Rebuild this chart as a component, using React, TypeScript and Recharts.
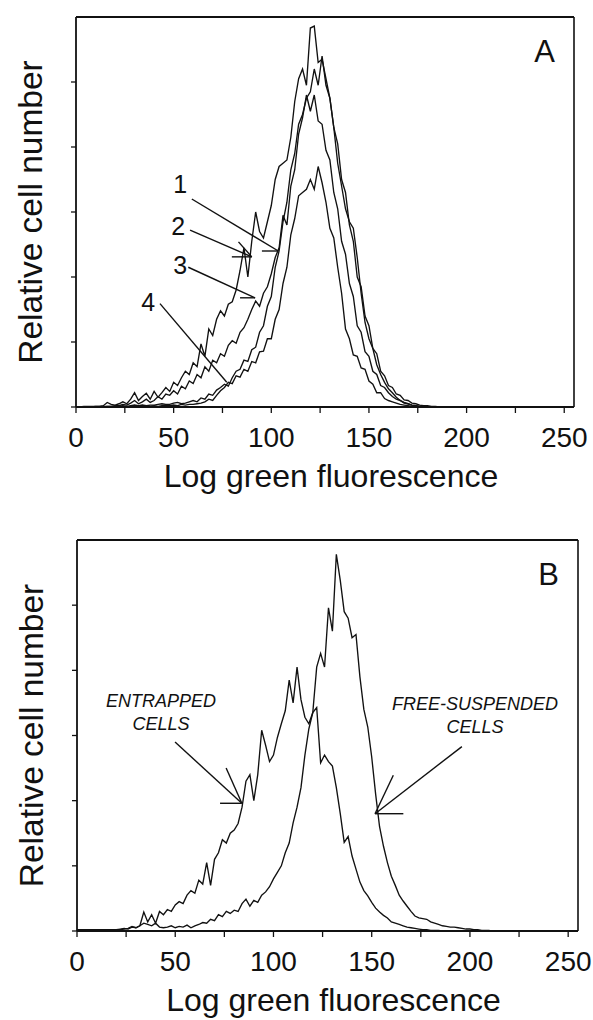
import React from "react";
import { LineChart, Line, XAxis, YAxis, ReferenceLine, ReferenceDot } from "recharts";

const INK = "#111";
const FONT = "'Liberation Sans', Arial, sans-serif";

// fluorescence channel (x), sampled every 2 channels
const channels = [
  0, 2, 4, 6, 8, 10, 12, 14, 16, 18,
  20, 22, 24, 26, 28, 30, 32, 34, 36, 38,
  40, 42, 44, 46, 48, 50, 52, 54, 56, 58,
  60, 62, 64, 66, 68, 70, 72, 74, 76, 78,
  80, 82, 84, 86, 88, 90, 92, 94, 96, 98,
  100, 102, 104, 106, 108, 110, 112, 114, 116, 118,
  120, 122, 124, 126, 128, 130, 132, 134, 136, 138,
  140, 142, 144, 146, 148, 150, 152, 154, 156, 158,
  160, 162, 164, 166, 168, 170, 172, 174, 176, 178,
  180, 182, 184, 186, 188, 190, 192, 194, 196, 198,
  200, 202, 204, 206, 208, 210,
];

// panel A – four histograms
const histA1 = [
  0, 0, 0, 0, 0, 0, 0, 0, 0.01, 0.01,
  0.01, 0.01, 0.02, 0.01, 0.02, 0.03, 0.02, 0.03, 0.02, 0.03,
  0.03, 0.04, 0.05, 0.04, 0.04, 0.06, 0.07, 0.05, 0.06, 0.08,
  0.1, 0.08, 0.14, 0.12, 0.2, 0.18, 0.26, 0.3, 0.35, 0.32,
  0.45, 0.55, 0.58, 0.72, 0.7, 0.88, 0.92, 1.15, 1.25, 1.55,
  1.7, 2.15, 2.4, 2.85, 3.15, 3.65, 3.9, 4.35, 4.5, 4.75,
  4.85, 5.2, 4.95, 5.4, 4.95, 4.75, 4.3, 4.05, 3.5, 3.3,
  2.8, 2.55, 2.0, 1.85, 1.4, 1.25, 0.9, 0.82, 0.55, 0.48,
  0.33, 0.3, 0.2, 0.18, 0.11, 0.1, 0.06, 0.05, 0.03, 0.02,
  0.02, 0.01, 0.01, 0, 0, 0, 0, 0, 0, 0,
  0, 0, 0, 0, 0, 0,
];
const histA2 = [
  0, 0, 0.01, 0.01, 0.01, 0.01, 0.01, 0.02, 0.07, 0.04,
  0.03, 0.05, 0.08, 0.05, 0.12, 0.22, 0.1, 0.16, 0.21, 0.12,
  0.24, 0.15, 0.22, 0.3, 0.24, 0.38, 0.33, 0.45, 0.55, 0.5,
  0.68, 0.62, 0.97, 0.78, 1.2, 1.1, 1.35, 1.48, 1.4, 1.58,
  1.62, 1.8, 2.1, 2.45, 2.0, 2.55, 3.0, 2.7, 2.6, 2.85,
  3.1, 3.5, 3.7, 3.75, 3.8, 4.15, 4.7, 5.05, 5.2, 4.95,
  5.83, 5.86, 5.3, 5.35, 5.05, 4.75, 4.3, 3.75, 3.4, 3.05,
  2.85, 2.75, 2.3, 1.75, 1.3, 1.05, 0.9, 0.65, 0.5, 0.38,
  0.28, 0.22, 0.15, 0.1, 0.06, 0.05, 0.03, 0.02, 0.01, 0.01,
  0, 0, 0, 0, 0, 0, 0, 0, 0, 0,
  0, 0, 0, 0, 0, 0,
];
const histA3 = [
  0, 0, 0, 0, 0, 0.01, 0.01, 0.01, 0.01, 0.01,
  0.02, 0.02, 0.04, 0.03, 0.06, 0.1, 0.05, 0.08, 0.12, 0.07,
  0.1, 0.16, 0.12, 0.2, 0.18, 0.25, 0.2, 0.32, 0.28, 0.4,
  0.36, 0.5, 0.45, 0.62, 0.55, 0.72, 0.68, 0.82, 0.78, 0.95,
  1.02, 0.98, 1.15, 1.22, 1.35, 1.5, 1.63, 1.55, 1.75, 1.85,
  2.05, 2.3, 2.45, 2.95, 2.8, 3.4, 3.65, 4.2, 4.45, 4.8,
  4.55, 4.8, 4.4, 4.35, 3.95, 3.8, 3.3, 3.05, 2.55, 2.35,
  1.9, 1.7, 1.25, 1.15, 0.85, 0.78, 0.55, 0.5, 0.33, 0.3,
  0.22, 0.16, 0.12, 0.1, 0.07, 0.05, 0.03, 0.02, 0.01, 0.01,
  0, 0, 0, 0, 0, 0, 0, 0, 0, 0,
  0, 0, 0, 0, 0, 0,
];
const histA4 = [
  0, 0, 0, 0, 0, 0, 0, 0, 0, 0,
  0, 0, 0, 0.01, 0, 0.01, 0.01, 0.01, 0.02, 0.01,
  0.02, 0.01, 0.02, 0.03, 0.02, 0.03, 0.02, 0.04, 0.03, 0.04,
  0.04, 0.05, 0.06, 0.08, 0.12, 0.1, 0.18, 0.25, 0.3, 0.38,
  0.36, 0.48, 0.46, 0.58, 0.55, 0.7, 0.68, 0.85, 0.86, 1.05,
  1.05, 1.35, 1.5, 1.9, 2.15, 2.65, 2.9, 3.25, 3.3, 3.35,
  3.5, 3.35, 3.7, 3.45, 3.15, 2.75, 2.6, 2.15, 1.75, 1.2,
  1.05, 0.8, 0.78, 0.6, 0.58, 0.4, 0.35, 0.22, 0.22, 0.13,
  0.1, 0.08, 0.06, 0.04, 0.03, 0.02, 0.01, 0.01, 0, 0,
  0, 0, 0, 0, 0, 0, 0, 0, 0, 0,
  0, 0, 0, 0, 0, 0,
];

// panel B – entrapped vs free-suspended cells
const entrapped = [
  0.02, 0.02, 0.02, 0.02, 0.02, 0.02, 0.02, 0.02, 0.02, 0.02,
  0.02, 0.03, 0.04, 0.03, 0.06, 0.05, 0.08, 0.29, 0.14, 0.25,
  0.12, 0.3, 0.25, 0.33, 0.3, 0.4, 0.45, 0.42, 0.55, 0.62,
  0.58, 0.78, 0.72, 1.05, 0.7, 1.1, 1.2, 1.4, 1.35, 1.5,
  1.55, 1.65, 1.9, 2.3, 2.4, 2.0, 2.4, 3.08, 2.85, 2.6,
  2.7, 2.97, 3.18, 3.38, 3.85, 3.5, 4.05, 3.55, 3.28, 3.18,
  3.35, 3.43, 2.58, 2.7, 2.6, 2.53, 2.2, 1.8, 1.36, 1.45,
  1.15, 0.95, 0.75, 0.62, 0.54, 0.44, 0.35, 0.29, 0.24, 0.2,
  0.14, 0.12, 0.1, 0.08, 0.06, 0.05, 0.04, 0.03, 0.02, 0.02,
  0.01, 0.01, 0.01, 0, 0, 0, 0, 0, 0, 0,
  0, 0, 0, 0, 0, 0,
];
const freeSuspended = [
  0.02, 0.02, 0.02, 0.02, 0.02, 0.02, 0.02, 0.02, 0.02, 0.02,
  0.02, 0.02, 0.03, 0.04, 0.07, 0.05, 0.08, 0.12, 0.1, 0.08,
  0.12, 0.06, 0.05, 0.06, 0.08, 0.05, 0.07, 0.06, 0.09, 0.05,
  0.08, 0.1, 0.13, 0.12, 0.18, 0.16, 0.25, 0.22, 0.3, 0.27,
  0.32, 0.3, 0.42, 0.49, 0.38, 0.47, 0.44, 0.55, 0.6, 0.68,
  0.8, 0.9, 1.0, 1.2, 1.35, 1.66, 1.9, 2.2, 2.7, 3.1,
  3.35, 4.05, 4.26, 4.05, 4.96, 4.6, 5.78, 5.38, 4.9, 4.8,
  4.5, 4.55, 3.9, 3.4, 3.13, 2.67, 2.1, 1.6, 1.3, 1.05,
  0.84, 0.7, 0.55, 0.46, 0.38, 0.3, 0.23, 0.2, 0.19, 0.18,
  0.14, 0.12, 0.1, 0.08, 0.07, 0.06, 0.06, 0.05, 0.04, 0.03,
  0.03, 0.02, 0.02, 0.01, 0.01, 0.01,
];

const xTicks = [0, 25, 50, 75, 100, 125, 150, 175, 200, 225, 250];
const yTicks = [0, 1, 2, 3, 4, 5];
const xMax = 255;
const yMax = 6;

// annotations, in data units
const notesA = [
  { text: "1", x: 53.3, y: 3.43 },
  { text: "2", x: 52.3, y: 2.78 },
  { text: "3", x: 53.3, y: 2.18 },
  { text: "4", x: 37, y: 1.62 },
];
const arrowsA = [
  { x1: 59.3, y1: 3.2, x2: 103.6, y2: 2.4 },
  { x1: 95.2, y1: 2.4, x2: 103.6, y2: 2.4 },
  { x1: 58.4, y1: 2.72, x2: 90, y2: 2.31 },
  { x1: 79.8, y1: 2.31, x2: 90, y2: 2.31 },
  { x1: 83.2, y1: 2.54, x2: 90, y2: 2.31 },
  { x1: 57.5, y1: 2.15, x2: 91.7, y2: 1.68 },
  { x1: 84, y1: 1.68, x2: 91.7, y2: 1.68 },
  { x1: 43, y1: 1.59, x2: 77.2, y2: 0.38 },
];
const notesB = [
  { text: "ENTRAPPED", x: 42.8, y: 3.54 },
  { text: "CELLS", x: 42.8, y: 3.18 },
  { text: "FREE-SUSPENDED", x: 202.6, y: 3.49 },
  { text: "CELLS", x: 202.6, y: 3.13 },
];
const arrowsB = [
  { x1: 49.9, y1: 2.9, x2: 83.9, y2: 1.96 },
  { x1: 72.8, y1: 1.96, x2: 83.9, y2: 1.96 },
  { x1: 75.9, y1: 2.5, x2: 83.9, y2: 1.96 },
  { x1: 195.9, y1: 2.83, x2: 151.7, y2: 1.8 },
  { x1: 166.1, y1: 1.8, x2: 151.7, y2: 1.8 },
  { x1: 161, y1: 2.39, x2: 151.7, y2: 1.8 },
];

const rowsA = channels.map((ch, i) => ({ ch, a1: histA1[i], a2: histA2[i], a3: histA3[i], a4: histA4[i] }));
const rowsB = channels.map((ch, i) => ({ ch, ent: entrapped[i], free: freeSuspended[i] }));

function YTitle({ viewBox }: any) {
  const cx = viewBox.x + 30;
  const cy = viewBox.y + viewBox.height / 2;
  return (
    <text x={cx} y={cy} transform={`rotate(-90, ${cx}, ${cy})`} textAnchor="middle"
      dominantBaseline="central" fontSize={33.5} fontFamily={FONT} fill={INK}>
      Relative cell number
    </text>
  );
}

function XTitle({ viewBox }: any) {
  const cx = viewBox.x + viewBox.width / 2 + 6;
  return (
    <text x={cx} y={viewBox.y + 80} textAnchor="middle" fontSize={32} fontFamily={FONT} fill={INK}>
      Log green fluorescence
    </text>
  );
}

function Panel({ data, keys, height, margin, xHeight, letter, notes, arrows, noteSize, noteStyle }: any) {
  return (
    <LineChart width={593} height={height} data={data} margin={margin}>
      <XAxis dataKey="ch" type="number" domain={[0, xMax]} ticks={xTicks} interval={0}
        tickFormatter={(v: number) => (v % 50 === 0 ? String(v) : "")}
        height={xHeight} tickSize={6} tickMargin={14}
        axisLine={{ stroke: INK, strokeWidth: 1.8 }} tickLine={{ stroke: INK, strokeWidth: 1.3 }}
        tick={{ fontSize: 28, fill: INK, fontFamily: FONT }}
        label={(p: any) => <XTitle {...p} />} />
      <YAxis type="number" domain={[0, yMax]} ticks={yTicks} interval={0} width={76}
        tickFormatter={() => ""} tickSize={5}
        axisLine={{ stroke: INK, strokeWidth: 1.8 }} tickLine={{ stroke: INK, strokeWidth: 1.3 }}
        label={(p: any) => <YTitle {...p} />} />
      <ReferenceLine y={yMax} stroke={INK} strokeWidth={1.8} ifOverflow="visible" />
      <ReferenceLine x={xMax} stroke={INK} strokeWidth={1.6} ifOverflow="visible" />
      {keys.map((k: string) => (
        <Line key={k} dataKey={k} type="linear" stroke={INK} strokeWidth={1.35} dot={false}
          isAnimationActive={false} />
      ))}
      {arrows.map((a: any, i: number) => (
        <ReferenceLine key={"ar" + i} segment={[{ x: a.x1, y: a.y1 }, { x: a.x2, y: a.y2 }]}
          stroke={INK} strokeWidth={1.4} ifOverflow="visible" />
      ))}
      {notes.map((n: any, i: number) => (
        <ReferenceDot key={"nt" + i} x={n.x} y={n.y} r={0} fill="none" stroke="none"
          label={{ value: n.text, position: "center", fontSize: noteSize, fontStyle: noteStyle,
            fill: INK, fontFamily: FONT }} />
      ))}
      <ReferenceDot x={240} y={5.48} r={0} fill="none" stroke="none"
        label={{ value: letter, position: "center", fontSize: 31, fill: INK, fontFamily: FONT }} />
    </LineChart>
  );
}

export default function App() {
  return (
    <div style={{ position: "absolute", left: 0, top: 0, width: 593, height: 1020, background: "#fff" }}>
      <Panel data={rowsA} keys={["a1", "a2", "a3", "a4"]} height={520}
        margin={{ top: 17, right: 19, bottom: 0, left: 0 }} xHeight={113}
        letter="A" notes={notesA} arrows={arrowsA} noteSize={25} noteStyle="normal" />
      <Panel data={rowsB} keys={["ent", "free"]} height={500}
        margin={{ top: 20, right: 15, bottom: 0, left: 1 }} xHeight={89}
        letter="B" notes={notesB} arrows={arrowsB} noteSize={18} noteStyle="italic" />
    </div>
  );
}
